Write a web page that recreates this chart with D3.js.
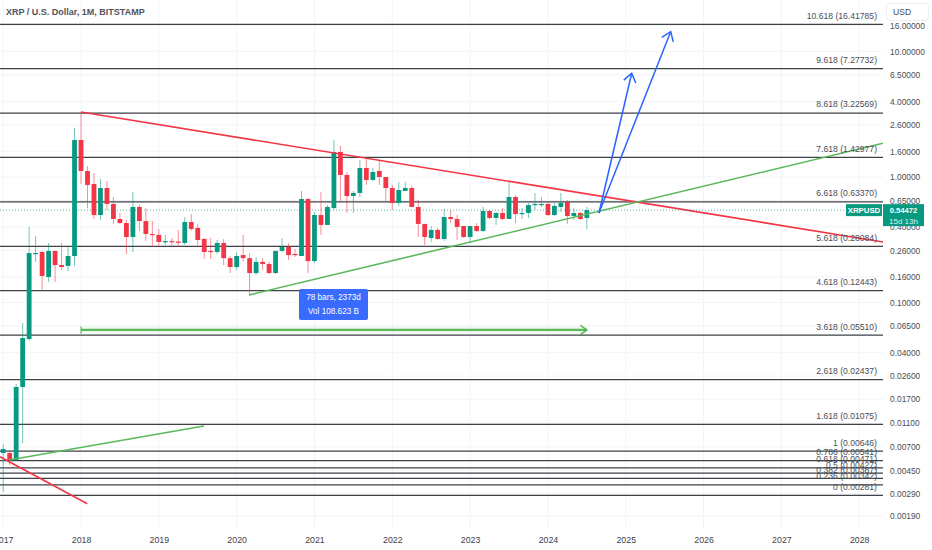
<!DOCTYPE html>
<html>
<head>
<meta charset="utf-8">
<script src="https://d3js.org/d3.v7.min.js"></script>
<style>
  html, body { margin: 0; padding: 0; background: #fff; }
  svg { display: block; }
  text { font-family: "Liberation Sans", Arial, sans-serif; }
  .axis path, .axis line { display: none; }
</style>
</head>
<body>
<div id="chart"></div>
<script>
// monthly candles, Jan 2017 to Jul 2024
var opens = [.00625,.00625,.00547,.0213,.0513,.244,.253,.160,.258,.199,.196,.235,1.97,1.116,.880,.498,.817,.610,.463,.430,.333,.577,.446,.352,.346,.304,.309,.306,.298,.438,.393,.321,.258,.253,.298,.226,.192,.239,.226,.172,.211,.203,.172,.258,.277,.244,.235,.668,.214,.498,.415,.566,1.581,1.037,.706,.746,1.179,.947,1.116,1.0,.817,.621,.774,.817,.577,.423,.327,.379,.321,.480,.463,.407,.333,.407,.372,.536,.472,.517,.463,.693,.507,.517,.598,.598,.610,.498,.577,.632,.489,.517,.472];
var highs = [.00741,.00661,.0225,.0688,.400,.339,.258,.298,.258,.298,.277,2.455,3.291,1.223,1.076,.964,.929,.693,.517,.455,.760,.598,.566,.446,.386,.346,.327,.379,.480,.507,.423,.327,.327,.315,.321,.235,.253,.346,.248,.231,.226,.211,.258,.327,.298,.267,.774,.681,.526,.760,.598,1.97,1.765,1.096,.774,1.366,1.417,1.179,1.366,1.0,.864,.912,.912,.848,.656,.423,.407,.393,.556,.546,.498,.407,.407,.430,.577,.546,.526,.566,.929,.719,.566,.621,.746,.693,.632,.621,.746,.656,.566,.526,.577];
var lows = [.00299,.00498,.00537,.00755,.0495,.211,.126,.146,.146,.182,.178,.196,.880,.566,.463,.455,.546,.423,.423,.244,.253,.372,.309,.277,.277,.288,.277,.277,.288,.372,.288,.222,.222,.244,.199,.172,.182,.211,.115,.166,.182,.169,.169,.253,.218,.231,.235,.172,.207,.346,.415,.546,.644,.517,.517,.693,.864,.929,.864,.644,.546,.588,.774,.577,.333,.288,.304,.315,.309,.430,.315,.327,.298,.365,.365,.463,.415,.455,.463,.430,.463,.472,.546,.577,.489,.489,.526,.423,.455,.455,.386];
var closes = [.00674,.00547,.0213,.0523,.248,.248,.163,.258,.199,.192,.235,1.97,1.116,.864,.498,.817,.610,.463,.430,.333,.577,.446,.352,.346,.304,.309,.304,.301,.438,.386,.315,.253,.253,.298,.226,.192,.235,.226,.172,.211,.203,.172,.258,.277,.239,.239,.668,.214,.498,.415,.577,1.581,1.037,.706,.746,1.179,.947,1.096,1.0,.817,.621,.788,.817,.577,.423,.333,.379,.321,.480,.463,.400,.333,.407,.372,.536,.472,.517,.463,.693,.507,.517,.598,.610,.610,.498,.588,.621,.489,.517,.463,.54472];
var firstYear = 2017;

// fib levels
var fibLevels = ["10.618","9.618","8.618","7.618","6.618","5.618","4.618","3.618","2.618","1.618","1","0.786","0.618","0.5","0.382","0.236","0"];
var fibPrices = [16.41785,7.27732,3.22569,1.42977,0.63370,0.28084,0.12443,0.05510,0.02437,0.01075,0.00646,0.00541,0.00471,0.00427,0.00387,0.00342,0.00281];

// price axis and time axis
var priceTicks = [16,10,6.5,4,2.6,1.6,1,0.65,0.4,0.26,0.16,0.1,0.065,0.04,0.026,0.017,0.011,0.007,0.0045,0.0029,0.0019];
var yearTicks = [2017,2018,2019,2020,2021,2022,2023,2024,2025,2026,2027,2028];

// drawings, as [month index, price]
var redLong = [[12,3.291],[135.67,0.304]];
var greenLong = [[37.9,0.115],[135.67,1.855]];
var greenShort = [[0.9,0.00547],[30.96,0.0104]];
var redShort = [[-0.5,0.005827],[12.97,0.002396]];
var arrowOne = [[91.87,0.517],[96.92,6.69]];
var arrowTwo = [[91.87,0.517],[102.93,14.34]];
var ruler = [[12,0.0606],[90,0.0606]];

var title = "XRP / U.S. Dollar, 1M, BITSTAMP";
var rulerLines = ["78 bars, 2373d","Vol 108.623 B"];
var lastPrice = 0.54472;

var GREEN = "#089981", RED = "#f23645", BLUE = "#2962ff", LINE = "#5cb85c";
var width = 932, height = 550, plotRight = 883, plotBottom = 530;

var svg = d3.select("#chart").append("svg").attr("width", width).attr("height", height);
var plot = svg.append("g");

var clip = svg.append("defs").append("clipPath").attr("id", "plotClip");
clip.append("rect").attr("width", plotRight).attr("height", plotBottom);
plot.attr("clip-path", "url(#plotClip)");

// one step per month, Jan 2017 is 0
var x = d3.scaleLinear().domain([0, 132]).range([3.2, 859.2]);
// log scale, the low end of the chart is a bit tighter than the rest
var y = d3.scaleLog().domain([16.41785, 0.01075, 0.00281]).range([24.3, 424.3, 495.3]);

function yearX(yr) { return (yr - firstYear) * 12; }

// grid
plot.selectAll(".gridH").data(priceTicks).enter().append("line")
  .attr("x1", 0).attr("x2", plotRight)
  .attr("y1", function(d) { return y(d); }).attr("y2", function(d) { return y(d); })
  .attr("stroke", "#f3f4f6").attr("stroke-width", 1);
plot.selectAll(".gridV").data(yearTicks).enter().append("line")
  .attr("x1", function(d) { return x(yearX(d)); }).attr("x2", function(d) { return x(yearX(d)); })
  .attr("y1", 0).attr("y2", plotBottom)
  .attr("stroke", "#f3f4f6").attr("stroke-width", 1);

// fib lines and labels
plot.selectAll(".fib").data(fibPrices).enter().append("line")
  .attr("x1", 0).attr("x2", plotRight)
  .attr("y1", function(d) { return y(d); }).attr("y2", function(d) { return y(d); })
  .attr("stroke", "#3f4149").attr("stroke-width", 1.25);

// last price line
svg.append("line")
  .attr("x1", 0).attr("x2", 846)
  .attr("y1", y(lastPrice)).attr("y2", y(lastPrice))
  .attr("stroke", GREEN).attr("stroke-width", 1).attr("stroke-dasharray", "1,2").attr("opacity", 0.7);

// candles
var bodyWidth = (x(1) - x(0)) * 0.74;
var candles = plot.selectAll(".candle").data(d3.range(opens.length)).enter().append("g").attr("class", "candle");
function candleColor(i) { return closes[i] >= opens[i] ? GREEN : RED; }
candles.append("line")
  .attr("x1", function(i) { return x(i); }).attr("x2", function(i) { return x(i); })
  .attr("y1", function(i) { return y(highs[i]); }).attr("y2", function(i) { return y(lows[i]); })
  .attr("stroke", candleColor).attr("stroke-width", 1).attr("opacity", 0.55);
candles.append("rect")
  .attr("x", function(i) { return x(i) - bodyWidth / 2; })
  .attr("width", bodyWidth)
  .attr("y", function(i) { return y(Math.max(opens[i], closes[i])); })
  .attr("height", function(i) { return Math.max(1.2, Math.abs(y(opens[i]) - y(closes[i]))); })
  .attr("fill", candleColor);

// trend lines
var pathLine = d3.line()
  .x(function(d) { return x(d[0]); })
  .y(function(d) { return y(d[1]); });

function drawLine(points, color, w) {
  plot.append("path").attr("d", pathLine(points))
    .attr("fill", "none").attr("stroke", color).attr("stroke-width", w);
}
drawLine(redLong, RED, 1.6);
drawLine(greenLong, LINE, 1.6);
drawLine(greenShort, LINE, 1.6);
drawLine(redShort, RED, 1.6);

// arrow head, worked out from the line ends on screen
function drawHead(points, color, len, w) {
  var a = points[points.length - 2], b = points[points.length - 1];
  var tipX = x(b[0]), tipY = y(b[1]);
  var ang = Math.atan2(tipY - y(a[1]), tipX - x(a[0]));
  var arms = [ang + Math.PI * 0.8, ang - Math.PI * 0.8];
  var d = "M" + (tipX + len * Math.cos(arms[0])) + "," + (tipY + len * Math.sin(arms[0])) +
    "L" + tipX + "," + tipY +
    "L" + (tipX + len * Math.cos(arms[1])) + "," + (tipY + len * Math.sin(arms[1]));
  plot.append("path").attr("d", d).attr("fill", "none").attr("stroke", color).attr("stroke-width", w);
}
drawLine(arrowOne, BLUE, 1.5);
drawHead(arrowOne, BLUE, 10.5, 1.5);
drawLine(arrowTwo, BLUE, 1.5);
drawHead(arrowTwo, BLUE, 10.5, 1.5);

// date range ruler
var rulerY = y(ruler[0][1]);
plot.append("rect")
  .attr("x", x(ruler[0][0])).attr("y", rulerY - 3.5)
  .attr("width", x(ruler[1][0]) - x(ruler[0][0])).attr("height", 7)
  .attr("fill", LINE).attr("opacity", 0.1);
drawLine(ruler, LINE, 2.2);
plot.append("line")
  .attr("x1", x(ruler[0][0])).attr("x2", x(ruler[0][0]))
  .attr("y1", rulerY - 3.5).attr("y2", rulerY + 3.5)
  .attr("stroke", LINE).attr("stroke-width", 1.2);
drawHead(ruler, "#4caf50", 8, 1.3);

// fib labels go above the lines
svg.selectAll(".fibLabel").data(fibPrices).enter().append("text")
  .attr("x", 877)
  .attr("y", function(d) { return y(d) - 5.6; })
  .attr("text-anchor", "end")
  .attr("font-size", 8.6)
  .attr("fill", "#4a4d55")
  .text(function(d, i) { return fibLevels[i] + " (" + d.toFixed(5) + ")"; });

// ruler tooltip
svg.append("rect")
  .attr("x", 299).attr("y", 289).attr("width", 69).attr("height", 31).attr("rx", 2)
  .attr("fill", "#3a6bff");
svg.selectAll(".rulerText").data(rulerLines).enter().append("text")
  .attr("x", 333.5)
  .attr("y", function(d, i) { return 300.3 + i * 13.6; })
  .attr("text-anchor", "middle")
  .attr("font-size", 8.2)
  .attr("fill", "#fff")
  .text(function(d) { return d; });

// axes
var yAxis = d3.axisRight(y)
  .tickValues(priceTicks)
  .tickSize(0)
  .tickFormat(function(d) { return d.toFixed(5); });
svg.append("g").attr("class", "axis")
  .attr("transform", "translate(890,0)")
  .call(yAxis)
  .call(function(g) {
    g.selectAll("text").attr("x", 0).attr("font-size", 8.4).attr("fill", "#4a4d55")
      .style("font-family", '"Liberation Sans", Arial, sans-serif');
  });

var xAxis = d3.axisBottom(x)
  .tickValues(yearTicks.map(yearX))
  .tickSize(0)
  .tickFormat(function(d) { return String(firstYear + d / 12); });
svg.append("g").attr("class", "axis")
  .attr("transform", "translate(0,534)")
  .call(xAxis)
  .call(function(g) {
    g.selectAll("text").attr("y", 3).attr("font-size", 8.8).attr("fill", "#3f4149")
      .style("font-family", '"Liberation Sans", Arial, sans-serif');
  });

// price tags
var tagY = y(lastPrice);
svg.append("rect").attr("x", 846).attr("y", tagY - 6).attr("width", 36).attr("height", 12).attr("fill", GREEN);
svg.append("text").attr("x", 864).attr("y", tagY + 2.9).attr("text-anchor", "middle")
  .attr("font-size", 7.8).attr("font-weight", 700).attr("fill", "#fff").text("XRPUSD");
svg.append("rect").attr("x", 883).attr("y", tagY - 6).attr("width", 41).attr("height", 22).attr("fill", GREEN);
svg.append("text").attr("x", 903.5).attr("y", tagY + 3.2).attr("text-anchor", "middle")
  .attr("font-size", 7.6).attr("font-weight", 700).attr("fill", "#fff").text(lastPrice.toFixed(5));
svg.append("text").attr("x", 903.5).attr("y", tagY + 13.5).attr("text-anchor", "middle")
  .attr("font-size", 8).attr("fill", "#dff3ee").text("15d 13h");

// currency button
svg.append("rect").attr("x", 886.5).attr("y", 3.5).attr("width", 42).attr("height", 17).attr("rx", 3)
  .attr("fill", "#fff").attr("stroke", "#eceef1");
svg.append("text").attr("x", 893).attr("y", 15).attr("font-size", 8.6).attr("fill", "#4a4d55").text("USD");

// title
svg.append("text").attr("x", 6).attr("y", 14.5)
  .attr("font-size", 9).attr("font-weight", 700).attr("fill", "#50535c").text(title);
</script>
</body>
</html>
